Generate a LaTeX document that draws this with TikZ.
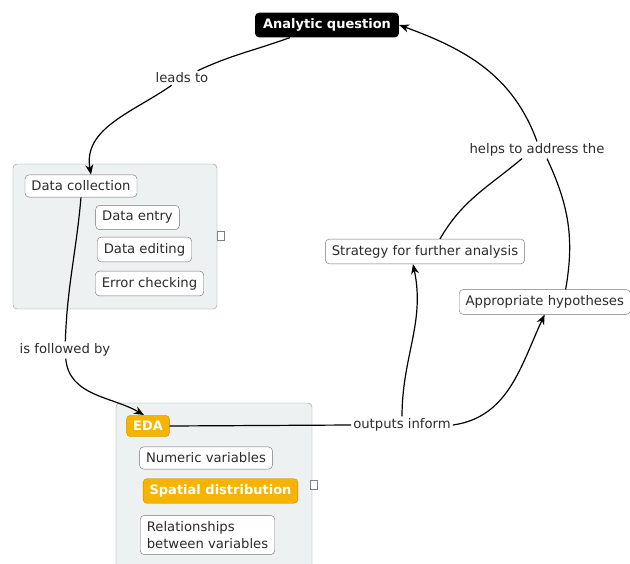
\documentclass[tikz,border=0pt]{standalone}
\usepackage{fontspec}
\setmainfont{DejaVu Sans}
\usepackage{xcolor}
\usetikzlibrary{arrows.meta, positioning}
\definecolor{panelfill}{HTML}{EEF1F1}
\definecolor{paneledge}{HTML}{8E9494}
\definecolor{hilite}{HTML}{F6B400}
\definecolor{hiliteedge}{HTML}{C98A00}
\definecolor{inktext}{HTML}{2B2B2B}

\tikzset{
  concept/.style={draw=gray!90!black, fill=white, rounded corners=4pt, inner xsep=6.5pt, inner ysep=6pt,
    text=inktext, font=\fontsize{13.2}{14.5}\selectfont},
  topic/.style={fill=black, text=white, rounded corners=4pt, inner xsep=8pt, inner ysep=6pt,
    font=\fontsize{13}{14.5}\selectfont\bfseries},
  marked/.style={concept, fill=hilite, draw=hiliteedge, text=white, font=\fontsize{13}{14.5}\selectfont\bfseries},
  panel/.style={draw=paneledge, fill=panelfill, rounded corners=4pt},
  panelicon/.style={draw=gray, fill=white, minimum width=7pt, minimum height=9pt, inner sep=0pt},
  linklabel/.style={inner sep=2pt, text=inktext, font=\fontsize{13.2}{14.5}\selectfont},
  link/.style={line width=1.2pt, -{Stealth[length=10pt, width=8pt]}},
  plainlink/.style={line width=1.2pt}
}

\begin{document}
\begin{tikzpicture}[x=1pt, y=-1pt]
  \useasboundingbox (0,0) rectangle (630,563);

  % grouped panels
  \filldraw[panel] (13,164) rectangle (217,309);
  \filldraw[panel] (116,403) rectangle (312,570);
  \node[panelicon] (iconA) at (221,236) {};
  \node[panelicon] (iconB) at (314,485) {};

  % concepts
  \node[topic] (question) at (327,25) {Analytic question};
  \node[concept] (collect) at (81,186) {Data collection};
  \node[concept] (entry) at (137.5,217.5) {Data entry};
  \node[concept] (editing) at (144.5,249.5) {Data editing};
  \node[concept] (errcheck) at (149.5,283.5) {Error checking};
  \node[marked] (eda) at (148,426) {EDA};
  \node[concept] (numvars) at (206,458) {Numeric variables};
  \node[marked] (spatial) at (220.5,491) {Spatial distribution};
  \node[concept, align=left, font=\fontsize{13.2}{17}\selectfont] (relvars) at (207.5,535) {Relationships\\between variables};
  \node[concept] (strategy) at (425,251.5) {Strategy for further analysis};
  \node[concept, anchor=west] (hypo) at (459,302) {Appropriate hypotheses};

  % link labels
  \node[linklabel] (leads) at (182,78) {leads to};
  \node[linklabel] (follows) at (65,350) {is followed by};
  \node[linklabel] (outputs) at (402,425) {outputs inform};
  \node[linklabel] (helps) at (537,150) {helps to address the};

  % question -> collection -> eda
  \draw[plainlink] ([xshift=-37pt]question.south) to[out=200, in=25] (leads);
  \draw[link] (leads) to[out=215, in=100] ([xshift=10pt]collect.north);
  \draw[plainlink] (collect.south) to[out=-95, in=88] (follows);
  \draw[link] (follows) to[out=-85, in=150] ([xshift=-4pt]eda.north);

  % eda outputs
  \draw[plainlink] (eda.east) -- (outputs.west);
  \draw[link] (outputs.north) to[out=90, in=-78] ([xshift=-12pt]strategy.south);
  \draw[link] (outputs.east) to[out=8, in=-115] ([xshift=-86pt]hypo.south east);

  % back to the question
  \draw[plainlink] ([xshift=15pt]strategy.north) to[out=60, in=-140] ([xshift=-15pt]helps.south);
  \draw[plainlink] ([xshift=-65pt]hypo.north east) to[out=80, in=-65] ([xshift=10pt]helps.south);
  \draw[link] (helps.north) to[out=110, in=-20] (question.east);
\end{tikzpicture}
\end{document}
